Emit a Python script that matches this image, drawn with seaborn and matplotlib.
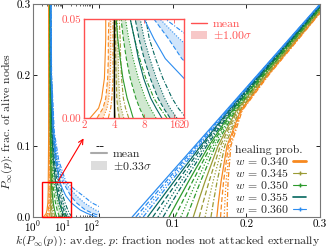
import numpy as np
import pandas as pd
import matplotlib
matplotlib.use('Agg')
import matplotlib.pyplot as plt
import seaborn as sns
from matplotlib.lines import Line2D
from matplotlib.patches import Patch, Rectangle

# healing probabilities and their colours
w_labels = ['0.340', '0.345', '0.350', '0.355', '0.360']
w_colors = ['#f7891f', '#9a9b35', '#2c9a2c', '#05675f', '#2b8cf0']
run_dashes = {0: '', 1: (4, 2), 2: (1, 1.5), 3: (4, 1.5, 1, 1.5)}

# right panel: p where each run reaches the levels of P_main
P_main = [0.0, 0.02, 0.05, 0.10, 0.15, 0.20, 0.30]
p_w340 = [[0.160, 0.1620, 0.1657, 0.1737, 0.1921, 0.2288, 0.3092],
          [0.165, 0.1664, 0.1691, 0.1756, 0.1929, 0.2294, 0.3096],
          [0.170, 0.1708, 0.1725, 0.1775, 0.1938, 0.2300, 0.3100],
          [0.174, 0.1742, 0.1752, 0.1790, 0.1944, 0.2305, 0.3103]]
p_w345 = [[0.128, 0.1342, 0.1439, 0.1615, 0.1866, 0.2250, 0.3066],
          [0.136, 0.1412, 0.1494, 0.1646, 0.1880, 0.2259, 0.3073],
          [0.144, 0.1481, 0.1548, 0.1676, 0.1893, 0.2269, 0.3079],
          [0.152, 0.1551, 0.1603, 0.1707, 0.1907, 0.2278, 0.3086]]
p_w350 = [[0.095, 0.1055, 0.1215, 0.1490, 0.1810, 0.2210, 0.3040],
          [0.103, 0.1125, 0.1269, 0.1520, 0.1824, 0.2220, 0.3046],
          [0.111, 0.1194, 0.1324, 0.1551, 0.1837, 0.2229, 0.3053],
          [0.119, 0.1264, 0.1378, 0.1581, 0.1851, 0.2239, 0.3059]]
p_w355 = [[0.066, 0.0803, 0.1018, 0.1380, 0.1761, 0.2175, 0.3017],
          [0.073, 0.0864, 0.1065, 0.1406, 0.1773, 0.2184, 0.3022],
          [0.080, 0.0925, 0.1113, 0.1433, 0.1785, 0.2192, 0.3028],
          [0.087, 0.0985, 0.1161, 0.1460, 0.1796, 0.2200, 0.3034]]
p_w360 = [[0.045, 0.0620, 0.0875, 0.1300, 0.1725, 0.2150, 0.3000],
          [0.050, 0.0664, 0.0909, 0.1319, 0.1734, 0.2156, 0.3004],
          [0.055, 0.0707, 0.0943, 0.1338, 0.1742, 0.2162, 0.3008],
          [0.060, 0.0751, 0.0977, 0.1357, 0.1751, 0.2168, 0.3012]]

# left panel + zoom: average degree k at the levels of P_k
P_k = [0.0, 0.005, 0.01, 0.02, 0.03, 0.04, 0.05, 0.08, 0.12, 0.2, 0.3]
k_w340 = [[2.3, 2.8, 3.0, 3.2, 3.25, 3.3, 3.3, 3.35, 3.4, 3.4, 3.4],
          [2.7, 3.1, 3.3, 3.45, 3.5, 3.5, 3.55, 3.55, 3.55, 3.5, 3.5],
          [3.1, 3.4, 3.55, 3.65, 3.7, 3.7, 3.7, 3.7, 3.65, 3.6, 3.55],
          [3.5, 3.7, 3.8, 3.9, 3.9, 3.9, 3.9, 3.85, 3.8, 3.7, 3.6]]
k_w345 = [[4.1, 4.05, 4.0, 4.0, 4.0, 4.0, 4.0, 3.9, 3.8, 3.7, 3.65],
          [4.5, 4.35, 4.25, 4.2, 4.15, 4.15, 4.15, 4.0, 3.9, 3.75, 3.7],
          [5.0, 4.7, 4.55, 4.45, 4.4, 4.35, 4.3, 4.15, 3.95, 3.8, 3.7],
          [5.6, 5.2, 4.95, 4.75, 4.65, 4.6, 4.5, 4.3, 4.05, 3.85, 3.75]]
k_w350 = [[6.2, 5.8, 5.4, 4.9, 4.6, 4.35, 4.2, 4.0, 3.9, 3.8, 3.75],
          [8.0, 7.2, 6.6, 5.8, 5.3, 4.95, 4.7, 4.3, 4.05, 3.85, 3.8],
          [10.5, 9.2, 8.2, 7.0, 6.2, 5.6, 5.2, 4.6, 4.2, 3.9, 3.8],
          [13.5, 11.5, 10.0, 8.3, 7.2, 6.4, 5.8, 4.9, 4.35, 3.95, 3.85]]
k_w355 = [[12.0, 10.5, 9.3, 7.9, 7.0, 6.4, 5.8, 4.9, 4.4, 4.05, 3.9],
          [14.5, 12.5, 11.0, 9.2, 8.0, 7.1, 6.5, 5.3, 4.6, 4.1, 3.95],
          [17.0, 14.5, 12.8, 10.6, 9.1, 8.0, 7.3, 5.7, 4.8, 4.15, 4.0],
          [21.0, 17.5, 15.2, 12.3, 10.4, 9.0, 8.3, 6.2, 5.0, 4.2, 4.0]]
k_w360 = [[150, 70, 40, 20, 13, 10, 8.0, 5.8, 4.8, 4.1, 4.0],
          [250, 110, 60, 30, 19, 14, 10, 6.3, 5.0, 4.2, 4.05],
          [600, 250, 130, 55, 30, 18, 11.5, 6.9, 5.1, 4.25, 4.1],
          [2000, 600, 300, 100, 50, 24, 13, 7.5, 5.3, 4.3, 4.1]]

p_all = [p_w340, p_w345, p_w350, p_w355, p_w360]
k_all = [k_w340, k_w345, k_w350, k_w355, k_w360]

rows_main = []
rows_k = []
for wl, p_runs, k_runs in zip(w_labels, p_all, k_all):
    for r in range(4):
        for P, p in zip(P_main, p_runs[r]):
            rows_main.append({'w': wl, 'run': r, 'curve': wl + str(r), 'P': P, 'p': p})
        for P, k in zip(P_k, k_runs[r]):
            rows_k.append({'w': wl, 'run': r, 'curve': wl + str(r), 'P': P, 'k': k})
df_main = pd.DataFrame(rows_main)
df_k = pd.DataFrame(rows_k)

sns.set_theme(style='ticks')
plt.rcParams['font.family'] = ['cmr10', 'DejaVu Serif']
plt.rcParams['mathtext.fontset'] = 'cm'
plt.rcParams['axes.formatter.use_mathtext'] = True
plt.rcParams['font.size'] = 8.5
plt.rcParams['axes.labelsize'] = 8.5
plt.rcParams['xtick.labelsize'] = 8
plt.rcParams['ytick.labelsize'] = 8
plt.rcParams['legend.fontsize'] = 8.5
plt.rcParams['axes.unicode_minus'] = False

palette = dict(zip(w_labels, w_colors))
red = '#ff5050'
spine_col = '#777777'

fig = plt.figure(figsize=(3.28, 2.46), dpi=100)
ax_k = fig.add_axes([33 / 328, 29 / 246, 67 / 328, 213 / 246])
ax_p = fig.add_axes([99 / 328, 29 / 246, 221 / 328, 213 / 246])
ax_in = fig.add_axes([84 / 328, 128 / 246, 100 / 328, 99 / 246])

# left panel: k vs P
for wl, col, k_runs in zip(w_labels, w_colors, k_all):
    ax_k.fill_betweenx(P_k, k_runs[1], k_runs[2], color=col, alpha=0.2, lw=0)
sns.lineplot(data=df_k, x='k', y='P', hue='w', style='run', units='curve',
             estimator=None, sort=False, palette=palette, dashes=run_dashes,
             legend=False, lw=0.8, ax=ax_k)
ax_k.set_xscale('log')
ax_k.set_xlim(1, 190)
ax_k.set_ylim(0, 0.3)
ax_k.set_yticks([0.0, 0.1, 0.2, 0.3])
ax_k.set_yticklabels(['0.0', '0.1', '0.2', '0.3'])
ax_k.set_xticks([1, 10, 100])
ax_k.set_xticklabels([r'$10^0$', r'$10^1$', r'$10^2$'])
ax_k.set_xlabel(r'$k(P_\infty(p))$: av.deg.', labelpad=0)
ax_k.xaxis.set_label_coords(0.42, -0.078)
ax_k.set_ylabel(r'$P_\infty(p)$: frac. of alive nodes', labelpad=1)
ax_k.yaxis.set_label_coords(-0.27, 0.45)
ax_k.spines['right'].set_visible(False)
ax_k.add_patch(Rectangle((2, 0), 18, 0.05, fill=False, ec='red', lw=1.0,
                         zorder=6, clip_on=False))

# right panel: p vs P
sns.lineplot(data=df_main, x='p', y='P', hue='w', style='run', units='curve',
             estimator=None, sort=False, palette=palette, dashes=run_dashes,
             legend=False, lw=0.9, ax=ax_p)
ax_p.set_xlim(0, 0.3)
ax_p.set_ylim(0, 0.3)
ax_p.set_xticks([0.0, 0.1, 0.2, 0.3])
ax_p.set_xticklabels(['', '0.1', '0.2', '0.3'])
ax_p.set_yticks([0.0, 0.1, 0.2, 0.3])
ax_p.set_yticklabels([])
ax_p.set_xlabel(r'$p$: fraction nodes not attacked externally', labelpad=0)
ax_p.xaxis.set_label_coords(0.52, -0.074)
ax_p.set_ylabel('')
ax_p.spines['left'].set_visible(False)

for ax in (ax_k, ax_p):
    ax.tick_params(direction='in', top=True, right=True, length=3, width=0.6,
                   colors='black', pad=1.5)
    ax.tick_params(which='minor', direction='in', top=True, length=1.5, width=0.5)
    for s in ax.spines.values():
        s.set_color(spine_col)
        s.set_linewidth(0.8)

# zoom inset
for wl, col, k_runs in zip(w_labels, w_colors, k_all):
    ax_in.fill_betweenx(P_k, k_runs[1], k_runs[2], color=col, alpha=0.22, lw=0)
sns.lineplot(data=df_k, x='k', y='P', hue='w', style='run', units='curve',
             estimator=None, sort=False, palette=palette, dashes=run_dashes,
             legend=False, lw=0.8, ax=ax_in)
ax_in.axvline(4, color='black', lw=1.0)
ax_in.set_xscale('log')
ax_in.set_xlim(2, 20)
ax_in.set_ylim(0, 0.05)
ax_in.set_xticks([2, 4, 8, 16, 20])
ax_in.set_xticklabels(['2', '4', '8', '16', '20'])
ax_in.xaxis.set_minor_locator(matplotlib.ticker.NullLocator())
ax_in.set_yticks([0.0, 0.05])
ax_in.set_yticklabels(['0.00', '0.05'])
ax_in.set_xlabel('')
ax_in.set_ylabel('')
ax_in.set_facecolor('white')
ax_in.tick_params(direction='in', top=True, right=True, length=3, width=0.6,
                  colors=red, labelcolor=red, pad=2)
for s in ax_in.spines.values():
    s.set_color(red)
    s.set_linewidth(1.0)

ax_k.annotate('', xy=(85, 110), xycoords='figure pixels',
              xytext=(57, 63), textcoords='figure pixels',
              arrowprops=dict(arrowstyle='->', color='red', lw=0.8))

# legends
red_leg = fig.legend(handles=[Line2D([], [], color=red, lw=1.0),
                              Patch(facecolor='#f7c8c8', edgecolor='none')],
                     labels=['mean', r'$\pm1.00\sigma$'],
                     loc='upper left', bbox_to_anchor=(186 / 328, 1 - 14 / 246),
                     frameon=False, handlelength=1.4, handletextpad=0.5,
                     labelspacing=0.0, borderaxespad=0, labelcolor=red)
gray_leg = fig.legend(handles=[Line2D([], [], color='#aaaaaa', lw=1.5),
                               Patch(facecolor='#dddddd', edgecolor='none')],
                      labels=['mean', r'$\pm0.33\sigma$'],
                      loc='upper left', bbox_to_anchor=(86 / 328, 1 - 144 / 246),
                      frameon=False, handlelength=1.4, handletextpad=0.5,
                      labelspacing=0.05, borderaxespad=0)
heal_handles = [Line2D([], [], color=w_colors[0], lw=2.0),
                Line2D([], [], color=w_colors[1], lw=0.8, marker='+', ms=3),
                Line2D([], [], color=w_colors[2], lw=0.8, marker='+', ms=3),
                Line2D([], [], color=w_colors[3], lw=1.2),
                Line2D([], [], color=w_colors[4], lw=0.8, marker='+', ms=3)]
heal_leg = fig.legend(handles=heal_handles,
                      labels=[r'$w$ = ' + wl for wl in w_labels],
                      title='healing prob.', title_fontsize=8.5,
                      loc='upper left', bbox_to_anchor=(230 / 328, 1 - 140 / 246),
                      frameon=False, markerfirst=False, handlelength=1.1,
                      handletextpad=0.4, labelspacing=0.0, borderaxespad=0,
                      alignment='left')

fig.savefig('out.png', dpi=100)
